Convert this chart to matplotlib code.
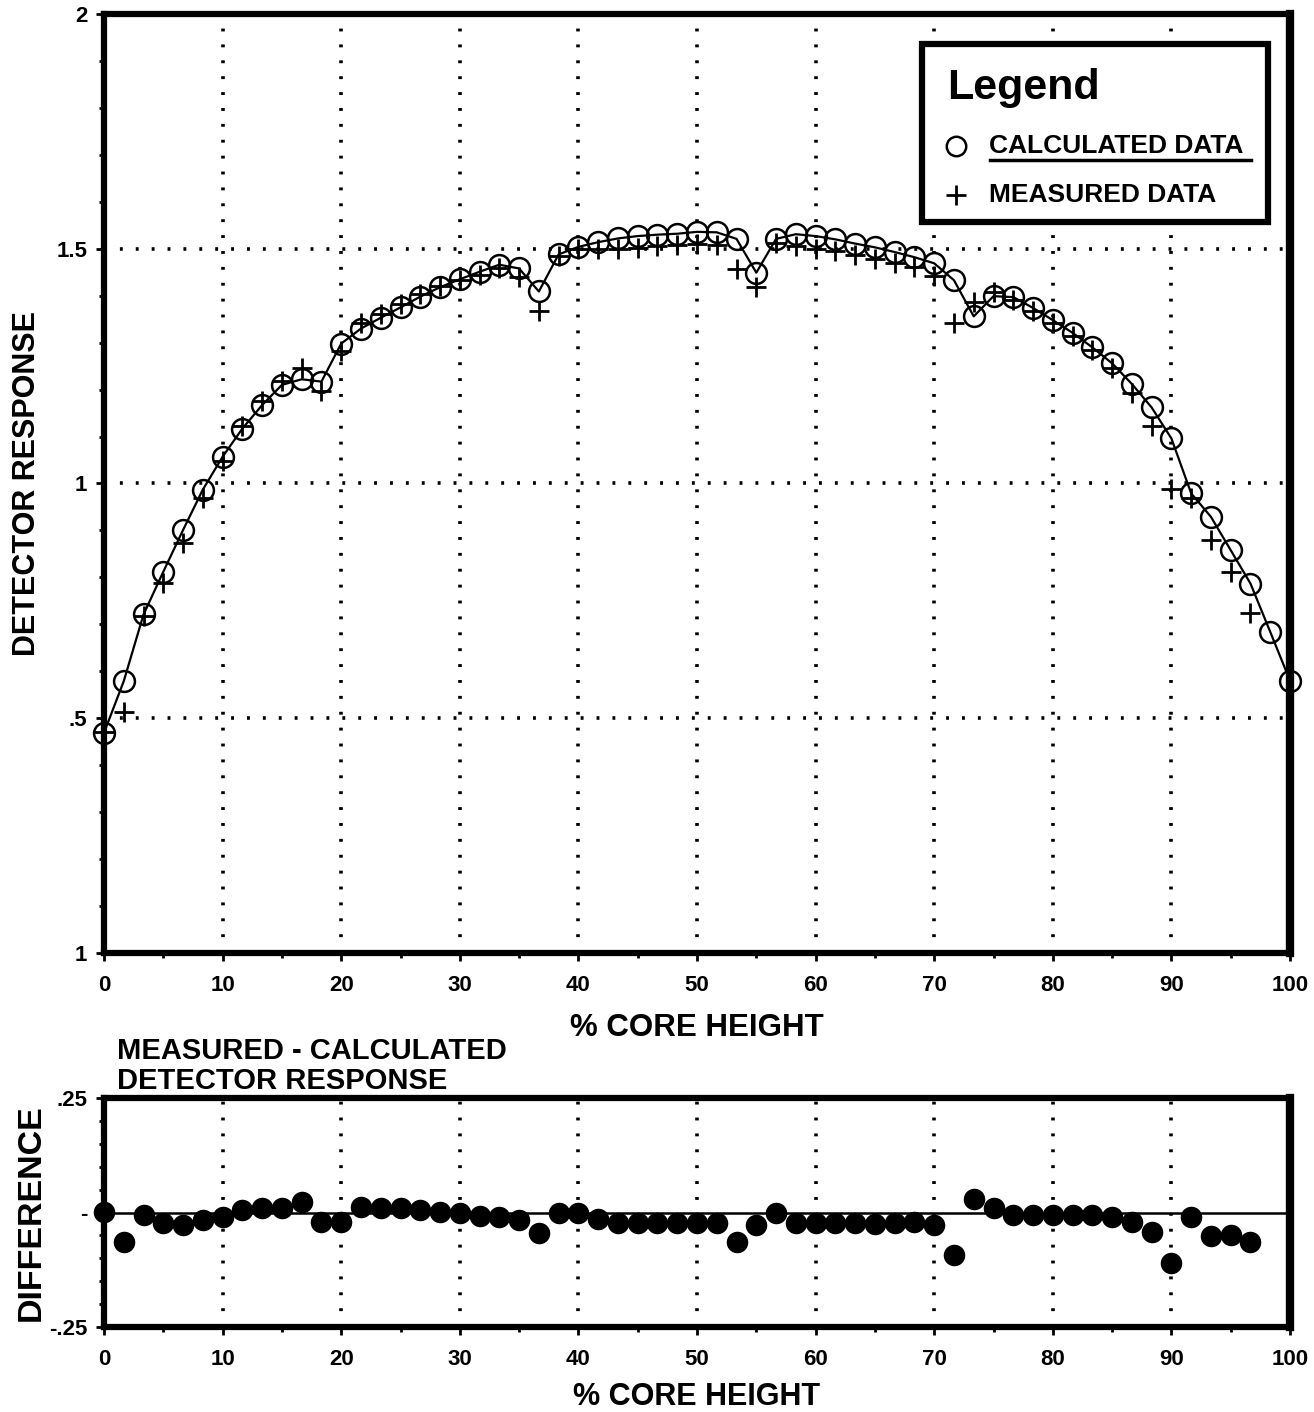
import numpy as np
import matplotlib
matplotlib.use("Agg")
import matplotlib.pyplot as plt
from matplotlib.patches import Rectangle
from matplotlib.lines import Line2D
from matplotlib.ticker import MultipleLocator, FixedLocator, FixedFormatter

plt.rcParams['font.family'] = ['Liberation Sans', 'DejaVu Sans']
plt.rcParams['font.weight'] = 'bold'

# axial positions (% core height), one every 5/3 %
core_height = np.linspace(0, 100, 61)

calculated = [
    0.469, 0.579, 0.721, 0.812, 0.901, 0.987, 1.057, 1.117, 1.167, 1.210,
    1.222, 1.217, 1.298, 1.330, 1.353, 1.375, 1.398, 1.418, 1.435, 1.451,
    1.466, 1.458, 1.409, 1.488, 1.504, 1.514, 1.522, 1.527, 1.530, 1.532,
    1.536, 1.535, 1.521, 1.449, 1.521, 1.531, 1.527, 1.520, 1.511, 1.503,
    1.493, 1.482, 1.469, 1.433, 1.356, 1.399, 1.397, 1.374, 1.348, 1.321,
    1.290, 1.256, 1.212, 1.162, 1.096, 0.979, 0.929, 0.858, 0.787, 0.684,
    0.580,
]

measured = [
    0.471, 0.514, 0.717, 0.788, 0.874, 0.970, 1.047, 1.122, 1.175, 1.218,
    1.247, 1.198, 1.282, 1.342, 1.362, 1.382, 1.403, 1.420, 1.434, 1.445,
    1.458, 1.440, 1.367, 1.484, 1.500, 1.499, 1.499, 1.502, 1.505, 1.507,
    1.510, 1.509, 1.456, 1.418, 1.513, 1.505, 1.500, 1.495, 1.486, 1.478,
    1.469, 1.461, 1.443, 1.342, 1.387, 1.408, 1.391, 1.368, 1.342, 1.315,
    1.284, 1.247, 1.192, 1.122, 0.988, 0.969, 0.879, 0.812, 0.725,
]

# measured - calculated
difference = [
    0.002, -0.065, -0.005, -0.024, -0.027, -0.016, -0.009, 0.006, 0.009, 0.009,
    0.024, -0.020, -0.020, 0.013, 0.009, 0.009, 0.006, 0.002, -0.002, -0.007,
    -0.009, -0.016, -0.044, -0.001, -0.002, -0.015, -0.022, -0.024, -0.024, -0.024,
    -0.024, -0.024, -0.064, -0.027, -0.002, -0.022, -0.024, -0.024, -0.024, -0.025,
    -0.024, -0.020, -0.027, -0.093, 0.029, 0.009, -0.006, -0.006, -0.006, -0.006,
    -0.006, -0.009, -0.020, -0.042, -0.110, -0.010, -0.051, -0.049, -0.064,
]

x_ticks = [0, 10, 20, 30, 40, 50, 60, 70, 80, 90, 100]
top_y_ticks = [0, 0.5, 1.0, 1.5, 2.0]
top_y_labels = ["1", ".5", "1", "1.5", "2"]
bot_y_ticks = [-0.25, 0, 0.25]
bot_y_labels = ["-.25", "-", ".25"]

W, H = 1314, 1412
fig = plt.figure(figsize=(W / 100, H / 100), dpi=100)
fig.patch.set_facecolor('white')

ax = fig.add_axes([104 / W, 1 - 953 / H, 1186 / W, 939 / H])
ax2 = fig.add_axes([104 / W, 1 - 1327 / H, 1186 / W, 229 / H])

dotted = (0, (0.8, 3.6))


def style_axes(a):
    for s in a.spines.values():
        s.set_linewidth(4.5)
        s.set_color('black')
    a.spines['right'].set_linewidth(6)
    a.set_xlim(0, 100)
    a.xaxis.set_major_locator(FixedLocator(x_ticks))
    a.xaxis.set_minor_locator(MultipleLocator(5))
    a.tick_params(which='major', direction='out', length=6, width=2,
                  labelsize=16, pad=10)
    a.tick_params(which='minor', direction='out', length=3.5, width=2)
    a.tick_params(axis='y', which='major', pad=6)
    for xv in x_ticks[1:-1]:
        a.axvline(xv, color='black', lw=2.6, ls=dotted, zorder=1)


# upper panel: detector response
style_axes(ax)
ax.set_ylim(0, 2)
ax.yaxis.set_major_locator(FixedLocator(top_y_ticks))
ax.yaxis.set_major_formatter(FixedFormatter(top_y_labels))
ax.yaxis.set_minor_locator(MultipleLocator(0.1))
ax.set_xticklabels([str(v) for v in x_ticks], fontweight='bold')
for yv in top_y_ticks[1:-1]:
    ax.axhline(yv, color='black', lw=2.6, ls=dotted, zorder=1)

ax.plot(core_height, calculated, color='black', lw=1.6, zorder=3,
        marker='o', markersize=15, markerfacecolor='none',
        markeredgecolor='black', markeredgewidth=1.8, clip_on=False)
ax.plot(core_height[:len(measured)], measured, ls='none', marker='+',
        markersize=15, markeredgewidth=2, color='black', zorder=4,
        clip_on=False)

ax.set_xlabel("% CORE HEIGHT", fontsize=22.5, fontweight='bold')
ax.xaxis.set_label_coords(0.5, -0.064)
ax.set_ylabel("DETECTOR RESPONSE", fontsize=22, fontweight='bold')
ax.yaxis.set_label_coords(-0.052, 0.5)

# legend box
lx0, ly0 = (922 - 104) / 1186, (953 - 222) / 939
lw_, lh_ = (1268 - 922) / 1186, (222 - 44) / 939
ax.add_patch(Rectangle((lx0, ly0), lw_, lh_, transform=ax.transAxes,
                       facecolor='white', edgecolor='black', lw=4.5,
                       zorder=6, clip_on=False))
ax.text((947 - 104) / 1186, (953 - 88) / 939, "Legend", transform=ax.transAxes,
        fontsize=31, fontweight='bold', va='center', ha='left', zorder=7)
ax.plot([(956 - 104) / 1186], [(953 - 146) / 939], transform=ax.transAxes,
        marker='o', markersize=14, markerfacecolor='none',
        markeredgecolor='black', markeredgewidth=1.8, zorder=7, clip_on=False)
ax.text((989 - 104) / 1186, (953 - 146) / 939, "CALCULATED DATA",
        transform=ax.transAxes, fontsize=19, fontweight='bold',
        va='center', ha='left', zorder=7)
ax.add_line(Line2D([(990 - 104) / 1186, (1251 - 104) / 1186],
                   [(953 - 160) / 939] * 2, transform=ax.transAxes,
                   color='black', lw=2.5, zorder=7))
ax.plot([(956 - 104) / 1186], [(953 - 195) / 939], transform=ax.transAxes,
        marker='+', markersize=15, markeredgewidth=2, color='black',
        zorder=7, clip_on=False)
ax.text((989 - 104) / 1186, (953 - 195) / 939, "MEASURED DATA",
        transform=ax.transAxes, fontsize=19, fontweight='bold',
        va='center', ha='left', zorder=7)

# lower panel: measured - calculated
style_axes(ax2)
ax2.set_ylim(-0.25, 0.25)
ax2.yaxis.set_major_locator(FixedLocator(bot_y_ticks))
ax2.yaxis.set_major_formatter(FixedFormatter(bot_y_labels))
ax2.yaxis.set_minor_locator(MultipleLocator(0.05))
ax2.set_xticklabels([str(v) for v in x_ticks], fontweight='bold')
ax2.axhline(0, color='black', lw=1.8, zorder=2)
ax2.plot(core_height[:len(difference)], difference, ls='none', marker='o',
         markersize=14.5, color='black', zorder=3, clip_on=False)

ax2.set_xlabel("% CORE HEIGHT", fontsize=22, fontweight='bold')
ax2.xaxis.set_label_coords(0.5, -0.238)
ax2.set_ylabel("DIFFERENCE", fontsize=24.5, fontweight='bold')
ax2.yaxis.set_label_coords(-0.048, 0.5)

fig.text(117 / W, 1 - 1037 / H, "MEASURED - CALCULATED\nDETECTOR RESPONSE",
         fontsize=21, fontweight='bold', ha='left', va='top', linespacing=1.08)

fig.savefig("out.png", dpi=100, facecolor='white')
